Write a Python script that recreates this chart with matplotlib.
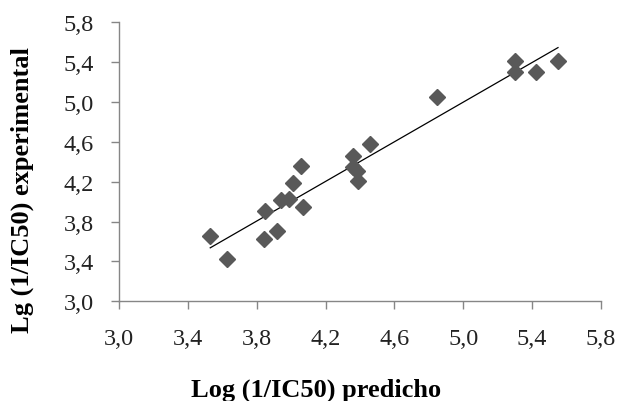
import numpy as np
import matplotlib.pyplot as plt

# predicted vs experimental log(1/IC50)
predicho = [3.53, 3.63, 3.84, 3.85, 3.92, 3.94, 3.99, 4.01, 4.06, 4.07,
            4.36, 4.36, 4.38, 4.39, 4.46, 4.85, 5.30, 5.30, 5.42, 5.55]
experimental = [3.66, 3.42, 3.63, 3.91, 3.71, 4.02, 4.03, 4.19, 4.36, 3.95,
                4.46, 4.35, 4.31, 4.21, 4.58, 5.05, 5.41, 5.30, 5.30, 5.41]

ticks = [3.0, 3.4, 3.8, 4.2, 4.6, 5.0, 5.4, 5.8]
tick_labels = ["3,0", "3,4", "3,8", "4,2", "4,6", "5,0", "5,4", "5,8"]

plt.rcParams['font.family'] = ['Liberation Serif', 'DejaVu Serif']

fig = plt.figure(figsize=(6.33, 4.02), dpi=100)
ax = fig.add_axes([0.188, 0.248, 0.7615, 0.694])

x = np.array(predicho)
y = np.array(experimental)
m, b = np.polyfit(x, y, 1)
xl = np.array([x.min(), x.max()])
ax.plot(xl, m*xl + b, color='black', linewidth=0.9, zorder=2)

ax.plot(x, y, linestyle='none', marker='D', markersize=8.5,
        color='#595959', markeredgecolor='#595959', zorder=3)

ax.set_xlim(3.0, 5.8)
ax.set_ylim(3.0, 5.8)
ax.set_xticks(ticks)
ax.set_xticklabels(tick_labels)
ax.set_yticks(ticks)
ax.set_yticklabels(tick_labels)

for s in ['top', 'right']:
    ax.spines[s].set_visible(False)
for s in ['left', 'bottom']:
    ax.spines[s].set_color('#868686')
    ax.spines[s].set_linewidth(1.0)

ax.tick_params(axis='both', direction='out', length=6, width=1.0,
               color='#868686', labelsize=17.5, labelcolor='#222222')
ax.tick_params(axis='x', pad=13)
ax.tick_params(axis='y', pad=12)

fig.text(0.5, 0.03, "Log (1/IC50) predicho", ha='center', va='center',
         fontsize=19, fontweight='bold')
fig.text(0.036, 0.527, "Lg (1/IC50) experimental", ha='center', va='center',
         rotation=90, fontsize=19, fontweight='bold')

fig.savefig("out.png", dpi=100)
